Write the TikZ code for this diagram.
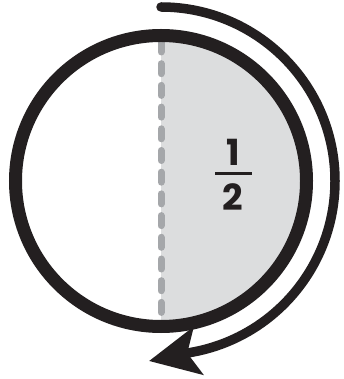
\documentclass[tikz,border=0pt]{standalone}
\usepackage{fontspec}
\usetikzlibrary{arrows.meta}
\newfontfamily\fracfont{Poppins}
\definecolor{ink}{HTML}{231F20}
\definecolor{halfgray}{HTML}{DCDDDE}
\definecolor{dashgray}{HTML}{A5A7AA}
\tikzset{digit/.style={inner sep=0pt,text=ink,font=\fracfont\bfseries\fontsize{36}{36}\selectfont}}

\begin{document}
\begin{tikzpicture}[x=1pt,y=1pt,line width=1pt]
\useasboundingbox (-161,-198) rectangle (182,181);
% shaded half
\fill[halfgray] (0,-145) arc[start angle=-90,end angle=90,radius=145] -- cycle;
% dashed divider
\draw[dashgray,line width=7pt,line cap=round,dash pattern=on 10pt off 11.7pt] (0,139) -- (0,-139);
% rim
\draw[ink,line width=13pt] (0,0) circle (145.5);
% turning arrow
\coordinate (tip) at (-12,-180);
\draw[ink,line width=9.5pt,line cap=round,-{Stealth[length=50pt,width=48pt,inset=11pt]}] (90:174) arc[start angle=90,end angle=-80,radius=174] -- (tip);
% fraction
\node[digit] (num) at (72,29) {1};
\node[digit] (den) at (72,-16.5) {2};
\coordinate (barl) at (54,7.7);
\coordinate (barr) at (91,7.7);
\draw[ink,line width=3pt] (barl) -- (barr);
\end{tikzpicture}
\end{document}
